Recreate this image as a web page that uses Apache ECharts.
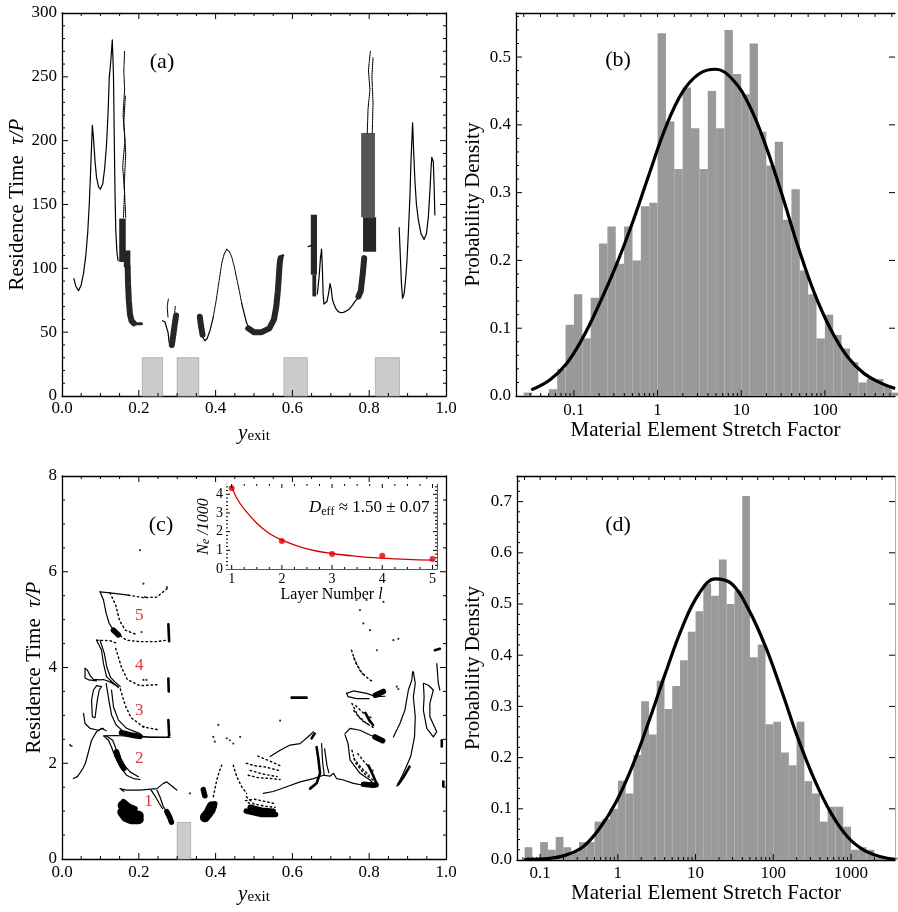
<!DOCTYPE html>
<html><head><meta charset="utf-8">
<script src="https://cdn.jsdelivr.net/npm/echarts@6/dist/echarts.min.js"></script>
<style>html,body{margin:0;padding:0;background:#fff}#c{width:898px;height:912px}</style>
</head><body><div id="c"></div>
<script>
// ================= DATA =================
// ---- Panel (a): residence time vs exit position ----
const aXTickValues = [0, 0.2, 0.4, 0.6, 0.8, 1];
const aXTickLabels = ['0.0', '0.2', '0.4', '0.6', '0.8', '1.0'];
const aYTickValues = [0, 50, 100, 150, 200, 250, 300];
const aYTickLabels = ['0', '50', '100', '150', '200', '250', '300'];
const aCurves = [
  [[0.031,92],[0.036,86],[0.043,82.5],[0.05,87],[0.056,96],[0.062,110],[0.067,128],[0.071,150],[0.075,180],[0.079,212],[0.082,202],[0.086,184],[0.09,171],[0.095,164],[0.1,162],[0.106,166],[0.111,178],[0.116,197],[0.12,222],[0.123,249],[0.127,262],[0.131,279],[0.134,252],[0.136,205],[0.138,160],[0.14,130],[0.143,113],[0.146,106]],
  [[0.262,59],[0.268,58],[0.273,57],[0.276,50],[0.279,42],[0.283,38.5],[0.287,39.5]],
  [[0.358,64],[0.362,55],[0.367,46],[0.372,43.3],[0.378,45],[0.386,52],[0.394,62]],
  [[0.468,72.6],[0.475,64],[0.481,57],[0.49,52],[0.498,49]],
  [[0.641,117],[0.65,118]],
  [[0.665,80],[0.67,95],[0.673,108],[0.676,115],[0.678,100],[0.68,80],[0.682,72],[0.686,71],[0.69,74],[0.694,80],[0.698,88],[0.701,84],[0.704,76],[0.708,72],[0.714,68],[0.72,66],[0.726,65.3],[0.733,65.5],[0.74,66.5],[0.748,68],[0.756,71],[0.764,74.5],[0.772,77],[0.78,79]],
  [[0.878,132],[0.881,110],[0.884,88],[0.887,76.5],[0.891,80],[0.895,92],[0.898,104],[0.902,128],[0.906,156],[0.909,185],[0.913,214],[0.916,190],[0.919,169],[0.923,150],[0.928,138],[0.935,127],[0.943,122.7],[0.949,127],[0.954,140],[0.958,160],[0.961,178],[0.963,187],[0.965,187],[0.967,183.5],[0.969,165],[0.971,141.8]]
];
const aDotted = [
  [[0.394,62],[0.401,74],[0.407,86],[0.412,96],[0.416,104],[0.422,111],[0.429,115],[0.436,113],[0.442,109],[0.449,101],[0.455,92],[0.462,82],[0.468,72.6]],
  [[0.160,140],[0.163,160],[0.158,180],[0.164,200],[0.159,220],[0.163,240],[0.161,255],[0.163,270]],
  [[0.166,140],[0.162,165],[0.166,190],[0.161,215],[0.165,235]],
  [[0.276,62],[0.274,70],[0.277,76]],
  [[0.293,64],[0.295,70]],
  [[0.795,206],[0.797,225],[0.802,240],[0.798,255],[0.803,270]],
  [[0.808,206],[0.81,230],[0.807,250],[0.81,265]]
];
const aBands = [
  [[0.171,101],[0.172,88],[0.174,75],[0.177,64],[0.181,59],[0.187,57]],
  [[0.286,40],[0.29,48],[0.294,57],[0.297,63]],
  [[0.359,62],[0.362,55],[0.366,48]],
  [[0.485,53],[0.5,50],[0.52,50],[0.54,53],[0.552,60],[0.558,70],[0.562,82],[0.565,95],[0.567,104],[0.569,108]],
  [[0.772,78],[0.778,82],[0.783,95],[0.787,108]]
];
const aThinBands = [
  [[0.185,57],[0.195,56.5],[0.207,56.5]],
  [[0.569,108],[0.575,110]]
];
const aDarkBlocks = [[0.149,0.166,105,139],[0.161,0.178,101,114],[0.648,0.664,95,142],[0.652,0.662,78,95],[0.784,0.818,113,140]];
const aHatchBlocks = [[0.779,0.815,140,206]];
const aShades = [[0.209,0.262,30],[0.300,0.356,30],[0.578,0.639,30],[0.816,0.879,30]];

// ---- Panel (b): stretch factor histogram ----
const bTickValues = [0.1, 1, 10, 100];
const bTickLabels = ['0.1', '1', '10', '100'];
const bYTickValues = [0, 0.1, 0.2, 0.3, 0.4, 0.5];
const bYTickLabels = ['0.0', '0.1', '0.2', '0.3', '0.4', '0.5'];
const bBinStartLog10 = -1.6;
const bBinWidthLog10 = 0.1;
const bDensity = [0.005,0,0,0.01,0.04,0.105,0.15,0.085,0.145,0.225,0.25,0.195,0.25,0.2,0.28,0.285,0.535,0.405,0.335,0.455,0.395,0.335,0.45,0.395,0.54,0.475,0.445,0.52,0.39,0.34,0.375,0.26,0.305,0.185,0.15,0.085,0.12,0.09,0.07,0.05,0.02,0.025,0.025,0.015,0.005];
const bFitLog10 = [-1.51,-1.285,-1.087,-0.889,-0.692,-0.494,-0.296,-0.099,0.099,0.296,0.494,0.692,0.889,1.087,1.285,1.482,1.68,1.877,2.075,2.27,2.47,2.67,2.84];
const bFitDensity = [0.009,0.024,0.048,0.087,0.137,0.193,0.257,0.328,0.397,0.448,0.475,0.482,0.468,0.431,0.372,0.299,0.22,0.151,0.097,0.058,0.033,0.019,0.011];

// ---- Panel (c): residence time (scaled) vs exit position ----
const cXTickValues = [0, 0.2, 0.4, 0.6, 0.8, 1];
const cXTickLabels = ['0.0', '0.2', '0.4', '0.6', '0.8', '1.0'];
const cYTickValues = [0, 2, 4, 6, 8];
const cYTickLabels = ['0', '2', '4', '6', '8'];
const cThin = [
  [[0.099,5.58],[0.125,5.56],[0.173,5.51]],
  [[0.099,5.58],[0.108,5.41],[0.115,5.13],[0.123,4.92],[0.134,4.78],[0.144,4.71],[0.152,4.66]],
  [[0.090,4.57],[0.103,4.36],[0.108,4.08],[0.116,3.81],[0.134,3.67],[0.147,3.58]],
  [[0.099,4.57],[0.110,4.30],[0.117,4.0],[0.126,3.8],[0.140,3.68],[0.152,3.60]],
  [[0.060,3.98],[0.066,3.95],[0.074,3.82],[0.082,3.75],[0.1,3.74],[0.108,3.75],[0.125,3.70],[0.147,3.60]],
  [[0.060,3.98],[0.060,3.78],[0.070,3.74],[0.090,3.72]],
  [[0.103,3.60],[0.097,3.53],[0.092,3.32],[0.086,2.95],[0.079,2.97],[0.077,3.32],[0.082,3.53],[0.090,3.62],[0.103,3.60]],
  [[0.056,3.04],[0.060,2.83],[0.073,2.73],[0.095,2.69],[0.108,2.73]],
  [[0.0295,1.68],[0.040,1.72],[0.047,1.80],[0.055,1.9],[0.061,2.0],[0.069,2.24],[0.077,2.48],[0.090,2.66],[0.103,2.73],[0.115,2.68]],
  [[0.115,3.67],[0.122,3.32],[0.129,3.01],[0.141,2.80],[0.160,2.66],[0.186,2.59],[0.229,2.54],[0.281,2.54]],
  [[0.129,3.53],[0.134,3.18],[0.147,2.90],[0.168,2.73],[0.203,2.62]],
  [[0.109,2.57],[0.121,2.48],[0.129,2.34],[0.138,2.14],[0.151,1.93],[0.168,1.75],[0.186,1.68],[0.203,1.66]],
  [[0.116,2.57],[0.132,2.48],[0.142,2.27],[0.155,2.03],[0.177,1.82],[0.199,1.72]],
  [[0.109,2.57],[0.142,2.58],[0.203,2.55],[0.273,2.54],[0.281,2.59]],
  [[0.161,1.41],[0.151,1.47],[0.168,1.44],[0.203,1.44],[0.247,1.47],[0.264,1.58],[0.273,1.61],[0.299,1.44]],
  [[0.247,1.44],[0.255,1.30],[0.264,1.09],[0.273,0.99],[0.281,0.88]],
  [[0.232,1.44],[0.242,1.32],[0.252,1.18],[0.262,1.05]],
  [[0.524,1.37],[0.550,1.41],[0.585,1.51],[0.620,1.61],[0.655,1.68],[0.681,1.75],[0.698,1.73],[0.707,1.79],[0.715,1.68],[0.733,1.65],[0.759,1.58],[0.785,1.54],[0.811,1.54]],
  [[0.542,2.14],[0.568,2.27],[0.594,2.38],[0.620,2.41],[0.646,2.59],[0.655,2.66]],
  [[0.741,3.46],[0.759,3.51],[0.793,3.46],[0.819,3.39],[0.841,3.40]],
  [[0.741,3.46],[0.745,3.39],[0.767,3.35],[0.80,3.35]],
  [[0.737,2.62],[0.750,2.73],[0.776,2.69],[0.802,2.59],[0.837,2.48]],
  [[0.737,2.59],[0.745,2.41],[0.750,2.07],[0.776,1.79],[0.802,1.65],[0.815,1.54]],
  [[0.863,2.55],[0.880,2.83],[0.893,3.11],[0.902,3.53],[0.911,3.74],[0.913,3.91]],
  [[0.872,1.52],[0.889,1.79],[0.908,2.14],[0.918,2.55],[0.920,2.97],[0.915,3.39],[0.920,3.67],[0.915,3.91]],
  [[0.941,3.67],[0.954,3.63],[0.967,3.53],[0.958,3.25],[0.958,2.97],[0.976,2.66],[0.967,2.55],[0.950,2.73],[0.941,3.11],[0.943,3.39],[0.941,3.67]],
  [[0.976,4.08],[0.980,3.67],[0.984,3.53]],
  [[0.676,2.41],[0.679,2.0],[0.683,1.75]],
  [[0.684,2.3],[0.69,1.95],[0.695,1.8]]
];
const cMedium = [
  [[0.663,2.34],[0.668,2.07],[0.672,1.79],[0.663,1.58],[0.646,1.47]],
  [[0.598,3.37],[0.637,3.37]],
  [[0.876,1.56],[0.89,1.72],[0.905,1.93]],
  [[0.971,4.36],[0.984,4.39]],
  [[0.989,2.48],[0.989,2.35]],
  [[0.993,1.62],[0.993,1.52]],
  [[0.277,4.9],[0.279,4.55]],
  [[0.277,3.77],[0.278,3.5]],
  [[0.277,2.9],[0.279,2.58]],
  [[0.650,2.52],[0.658,2.62]],
  [[0.798,1.95],[0.81,1.75],[0.818,1.6]],
  [[0.79,3.05],[0.8,2.9],[0.81,2.8]]
];
const cThick = [
  [[0.142,2.24],[0.149,2.07],[0.161,1.89]],
  [[0.155,2.64],[0.18,2.59],[0.203,2.56]],
  [[0.273,0.99],[0.281,0.86],[0.285,0.77]],
  [[0.368,1.45],[0.372,1.32]],
  [[0.48,1.0],[0.52,0.93],[0.556,0.93]],
  [[0.785,1.56],[0.811,1.54],[0.818,1.55]],
  [[0.816,3.42],[0.837,3.5]],
  [[0.815,2.55],[0.835,2.47]],
  [[0.134,4.78],[0.147,4.68]],
  [[0.16,1.2],[0.175,1.1],[0.19,1.05]],
  [[0.398,1.15],[0.392,1.0]],
  [[0.49,1.08],[0.52,1.02],[0.55,1.0]]
];
const cHeavy = [
  [[0.158,1.12],[0.17,1.0],[0.185,0.93],[0.2,0.9]],
  [[0.157,0.98],[0.166,0.88],[0.18,0.83],[0.2,0.83]],
  [[0.39,1.1],[0.382,0.97],[0.372,0.87]]
];
const cDotted = [
  [[0.173,5.51],[0.212,5.46],[0.247,5.47],[0.277,5.67]],
  [[0.152,4.66],[0.168,4.57],[0.203,4.54],[0.247,4.54],[0.273,4.57]],
  [[0.125,5.56],[0.14,5.3],[0.15,4.98],[0.165,4.78],[0.19,4.7]],
  [[0.09,4.57],[0.125,4.56],[0.145,4.5]],
  [[0.14,4.4],[0.155,4.0],[0.17,3.75],[0.203,3.62],[0.247,3.64]],
  [[0.152,3.55],[0.165,3.2],[0.18,2.95],[0.212,2.76],[0.25,2.7]],
  [[0.394,1.30],[0.403,1.65],[0.411,1.86],[0.416,1.96]],
  [[0.446,1.96],[0.455,1.72],[0.468,1.51],[0.481,1.37]],
  [[0.48,1.3],[0.5,1.15],[0.53,1.1],[0.555,1.08]],
  [[0.485,1.18],[0.51,1.05],[0.54,1.0]],
  [[0.478,1.22],[0.5,1.25],[0.53,1.2],[0.558,1.15]],
  [[0.48,2.0],[0.5,1.95],[0.53,1.92],[0.565,1.85]],
  [[0.49,1.85],[0.52,1.78],[0.56,1.72]],
  [[0.51,2.15],[0.54,2.05],[0.568,1.95]],
  [[0.485,1.75],[0.51,1.7],[0.545,1.68],[0.568,1.66]],
  [[0.754,4.36],[0.765,4.1],[0.78,3.9],[0.8,3.75],[0.811,3.7]],
  [[0.76,4.2],[0.775,3.95],[0.79,3.8]],
  [[0.755,3.25],[0.77,3.0],[0.79,2.85],[0.81,2.75]],
  [[0.76,3.1],[0.78,2.9],[0.8,2.8]],
  [[0.765,3.2],[0.785,3.05],[0.805,2.95]],
  [[0.755,2.27],[0.765,2.0],[0.785,1.8],[0.81,1.65]],
  [[0.76,2.1],[0.78,1.9],[0.8,1.75]],
  [[0.77,2.2],[0.79,2.0],[0.81,1.85]]
];
const cDots = [[0.203,6.45],[0.212,5.75],[0.216,5.47],[0.273,5.68],[0.212,3.74],[0.22,3.74],[0.212,2.76],[0.207,4.74],[0.407,2.80],[0.394,2.55],[0.398,2.45],[0.429,2.52],[0.437,2.48],[0.446,2.41],[0.464,2.55],[0.333,1.37],[0.568,2.89],[0.767,5.41],[0.793,5.41],[0.837,5.37],[0.776,5.2],[0.785,4.92],[0.802,4.78],[0.863,4.57],[0.876,4.6],[0.82,4.36],[0.872,3.6],[0.876,3.55],[0.021,2.38],[0.025,2.36]];
const cShades = [[0.300,0.335,0.765]];
const cLayerX = [0.201, 0.201, 0.201, 0.201, 0.225];
const cLayerY = [5.09, 4.05, 3.11, 2.10, 1.20];
const cLayerText = ['5', '4', '3', '2', '1'];

// ---- Inset of (c): number of elements per layer ----
const insetLayer = [1, 2, 3, 4, 5];
const insetNe = [4.32, 1.5, 0.80, 0.71, 0.54];
const insetFitLayer = [1, 1.1, 1.25, 1.5, 1.75, 2, 2.5, 3, 3.5, 4, 4.5, 5];
const insetFitNe = [4.4, 3.8, 3.2, 2.45, 1.9, 1.55, 1.08, 0.83, 0.68, 0.58, 0.51, 0.47];
const insetXTickValues = [1, 2, 3, 4, 5];
const insetXTickLabels = ['1', '2', '3', '4', '5'];
const insetYTickValues = [0, 1, 2, 3, 4];
const insetYTickLabels = ['0', '1', '2', '3', '4'];

// ---- Panel (d): stretch factor histogram ----
const dTickValues = [0.1, 1, 10, 100, 1000];
const dTickLabels = ['0.1', '1', '10', '100', '1000'];
const dYTickValues = [0, 0.1, 0.2, 0.3, 0.4, 0.5, 0.6, 0.7];
const dYTickLabels = ['0.0', '0.1', '0.2', '0.3', '0.4', '0.5', '0.6', '0.7'];
const dBinStartLog10 = -1.2;
const dBinWidthLog10 = 0.1;
const dDensity = [0.025,0,0.035,0.02,0.045,0.025,0.015,0.035,0.035,0.075,0.08,0.10,0.155,0.13,0.205,0.31,0.245,0.35,0.295,0.34,0.39,0.446,0.486,0.54,0.516,0.587,0.50,0.526,0.711,0.396,0.421,0.265,0.27,0.21,0.185,0.27,0.154,0.13,0.075,0.104,0.104,0.065,0.02,0.025,0.02,0.005,0.005,0.005];
const dFitLog10 = [-1.204,-0.872,-0.66,-0.447,-0.234,-0.021,0.191,0.404,0.617,0.83,1.043,1.255,1.468,1.68,1.894,2.106,2.319,2.532,2.745,2.957,3.17,3.383,3.57];
const dFitDensity = [0.001,0.003,0.01,0.026,0.062,0.114,0.185,0.273,0.367,0.455,0.52,0.549,0.539,0.49,0.419,0.331,0.237,0.156,0.091,0.045,0.019,0.0065,0.001];

// ================= LAYOUT / STYLE =================
const FONT = 'Liberation Serif';
const grids = [
  {left: 62, top: 13, width: 384, height: 383},
  {left: 516, top: 13, width: 381, height: 383},
  {left: 62, top: 476, width: 384, height: 383},
  {left: 517, top: 476, width: 380, height: 384},
  {left: 226, top: 484, width: 211, height: 85, show: true, backgroundColor: '#fff', borderWidth: 0, z: 4}
];
const A = {xMin: 0, xMax: 1, yMin: 0, yMax: 300};
const B = {xMin: 0.0203, xMax: 689, yMin: 0, yMax: 0.565};
const C = {xMin: 0, xMax: 1, yMin: 0, yMax: 8};
const D = {xMin: 0.0504, xMax: 3681, yMin: 0, yMax: 0.75};
const IN = {xMin: 0.887, xMax: 5.09, yMin: 0, yMax: 4.55};

function fmt(vals, labels) {
  return v => {
    const i = vals.findIndex(t => Math.abs(t - v) <= 1e-6 * Math.max(1, Math.abs(t)));
    return i >= 0 ? '{t|' + labels[i] + '}' : '';
  };
}
const blk = '#000';
function axisBase(o) {
  return Object.assign({
    splitLine: {show: false},
    axisLine: {show: true, onZero: false, lineStyle: {color: blk, width: 1.3}},
    axisTick: {show: false},
    minorTick: {show: false},
    axisLabel: {show: false},
    axisPointer: {show: false}
  }, o);
}
function lab(vals, labels, extra) {
  const fs = (extra && extra.fontSize) || 17;
  return Object.assign({show: true, fontSize: fs, fontFamily: FONT, color: blk, margin: 4, formatter: fmt(vals, labels),
    rich: {t: {fontSize: fs, fontFamily: FONT, color: blk}}}, extra || {});
}
const richName = {
  n: {fontSize: 21, fontFamily: FONT, color: blk},
  i: {fontSize: 21, fontFamily: FONT, fontStyle: 'italic', color: blk},
  s: {fontSize: 15, fontFamily: FONT, color: blk, padding: [7, 0, 0, 0]}
};
const insetLine = {show: true, onZero: false, lineStyle: {color: '#555', width: 1}};

const xAxis = [
  axisBase({gridIndex: 0, type: 'value', position: 'bottom', min: A.xMin, max: A.xMax, interval: 0.2,
    axisLabel: lab(aXTickValues, aXTickLabels, {margin: 4}),
    name: '{i|y}{s|exit}', nameLocation: 'middle', nameGap: 26, nameTextStyle: {rich: richName}}),
  axisBase({gridIndex: 0, type: 'value', position: 'top', min: A.xMin, max: A.xMax, interval: 0.2}),
  axisBase({gridIndex: 1, type: 'log', logBase: 10, position: 'bottom', min: B.xMin, max: B.xMax,
    axisLabel: lab(bTickValues, bTickLabels, {margin: 6}),
    name: 'Material Element Stretch Factor', nameLocation: 'middle', nameGap: 23,
    nameTextStyle: {fontSize: 21, fontFamily: FONT, color: blk}}),
  axisBase({gridIndex: 1, type: 'log', logBase: 10, position: 'top', min: B.xMin, max: B.xMax}),
  axisBase({gridIndex: 2, type: 'value', position: 'bottom', min: C.xMin, max: C.xMax, interval: 0.2,
    axisLabel: lab(cXTickValues, cXTickLabels, {margin: 5}),
    name: '{i|y}{s|exit}', nameLocation: 'middle', nameGap: 24, nameTextStyle: {rich: richName}}),
  axisBase({gridIndex: 2, type: 'value', position: 'top', min: C.xMin, max: C.xMax, interval: 0.2}),
  axisBase({gridIndex: 3, type: 'log', logBase: 10, position: 'bottom', min: D.xMin, max: D.xMax,
    axisLabel: lab(dTickValues, dTickLabels, {margin: 5}),
    name: 'Material Element Stretch Factor', nameLocation: 'middle', nameGap: 23,
    nameTextStyle: {fontSize: 21, fontFamily: FONT, color: blk}}),
  axisBase({gridIndex: 3, type: 'log', logBase: 10, position: 'top', min: D.xMin, max: D.xMax}),
  axisBase({gridIndex: 4, type: 'value', position: 'bottom', min: IN.xMin, max: IN.xMax, splitNumber: 4, axisLine: insetLine,
    axisLabel: lab(insetXTickValues, insetXTickLabels, {fontSize: 14, margin: 3}),
    name: '{n|Layer Number }{i|l}', nameLocation: 'middle', nameGap: 13,
    nameTextStyle: {rich: {n: {fontSize: 16, fontFamily: FONT, color: blk}, i: {fontSize: 16, fontFamily: FONT, fontStyle: 'italic', color: blk}}}}),
  axisBase({gridIndex: 4, type: 'value', position: 'top', min: IN.xMin, max: IN.xMax, splitNumber: 4, axisLine: insetLine})
];
const yAxis = [
  axisBase({gridIndex: 0, type: 'value', position: 'left', min: A.yMin, max: A.yMax, interval: 50,
    axisLabel: lab(aYTickValues, aYTickLabels, {margin: 5}),
    name: '{n|Residence Time  }{i|τ/P}', nameLocation: 'middle', nameGap: 33, nameRotate: 90, nameTextStyle: {rich: richName}}),
  axisBase({gridIndex: 0, type: 'value', position: 'right', min: A.yMin, max: A.yMax, interval: 50}),
  axisBase({gridIndex: 1, type: 'value', position: 'left', min: B.yMin, max: B.yMax, interval: 0.1,
    axisLabel: lab(bYTickValues, bYTickLabels, {margin: 5}),
    name: 'Probability Density', nameLocation: 'middle', nameGap: 32, nameRotate: 90,
    nameTextStyle: {fontSize: 21, fontFamily: FONT, color: blk}}),
  axisBase({gridIndex: 1, type: 'value', position: 'right', min: B.yMin, max: B.yMax, interval: 0.1, axisLine: {show: false}}),
  axisBase({gridIndex: 2, type: 'value', position: 'left', min: C.yMin, max: C.yMax, interval: 2,
    axisLabel: lab(cYTickValues, cYTickLabels, {margin: 5}),
    name: '{n|Residence Time  }{i|τ/P}', nameLocation: 'middle', nameGap: 15, nameRotate: 90, nameTextStyle: {rich: richName}}),
  axisBase({gridIndex: 2, type: 'value', position: 'right', min: C.yMin, max: C.yMax, interval: 2}),
  axisBase({gridIndex: 3, type: 'value', position: 'left', min: D.yMin, max: D.yMax, interval: 0.1,
    axisLabel: lab(dYTickValues, dYTickLabels, {margin: 5}),
    name: 'Probability Density', nameLocation: 'middle', nameGap: 33, nameRotate: 90,
    nameTextStyle: {fontSize: 21, fontFamily: FONT, color: blk}}),
  axisBase({gridIndex: 3, type: 'value', position: 'right', min: D.yMin, max: D.yMax, interval: 0.1,
    axisLine: {show: true, onZero: false, lineStyle: {color: '#999', width: 1, type: 'dotted'}}}),
  axisBase({gridIndex: 4, type: 'value', position: 'left', min: IN.yMin, max: IN.yMax, interval: 1, axisLine: insetLine,
    axisLabel: lab(insetYTickValues, insetYTickLabels, {fontSize: 14, margin: 3}),
    name: '{i|N}{s|e}{i| /1000}', nameLocation: 'middle', nameGap: 11, nameRotate: 90,
    nameTextStyle: {rich: {i: {fontSize: 16, fontFamily: FONT, fontStyle: 'italic', color: blk},
      s: {fontSize: 12, fontFamily: FONT, fontStyle: 'italic', color: blk, padding: [5, 0, 0, 0]}}}}),
  axisBase({gridIndex: 4, type: 'value', position: 'right', min: IN.yMin, max: IN.yMax, interval: 1, axisLine: insetLine})
];

// ================= SERIES BUILDERS =================
function polys(list, xi, yi, style, z) {
  return list.map(pts => ({type: 'line', xAxisIndex: xi, yAxisIndex: yi, data: pts, symbol: 'none', showSymbol: false,
    lineStyle: Object.assign({color: blk, cap: 'round', join: 'round'}, style), silent: true, animation: false, z: z || 3}));
}
function rects(data, xi, yi, style, z) {
  return {type: 'custom', xAxisIndex: xi, yAxisIndex: yi, data, silent: true, animation: false, z: z || 2,
    encode: {x: [0, 1], y: [2, 3]},
    renderItem: (p, api) => {
      const a = api.coord([api.value(0), api.value(3)]);
      const b = api.coord([api.value(1), api.value(2)]);
      return {type: 'rect', shape: {x: a[0], y: a[1], width: b[0] - a[0], height: b[1] - a[1]}, style: Object.assign({}, style)};
    }};
}
function histRects(startLog, widthLog, dens) {
  return dens.map((h, i) => [Math.pow(10, startLog + i * widthLog), Math.pow(10, startLog + (i + 1) * widthLog), 0, h]);
}
// frame tick marks (decoration): [x, y, dx, dy] in axis values + pixel offsets
function ticks(xi, yi, data, z) {
  return {type: 'custom', xAxisIndex: xi, yAxisIndex: yi, data, silent: true, animation: false, clip: false, z: z || 6,
    encode: {x: 0, y: 1},
    renderItem: (p, api) => {
      const c = api.coord([api.value(0), api.value(1)]);
      return {type: 'line', shape: {x1: c[0], y1: c[1], x2: c[0] + api.value(2), y2: c[1] + api.value(3)}, style: {stroke: blk, lineWidth: 1}};
    }};
}
function stepTicks(lo, hi, step, split) {
  const out = [];
  const st = step / split;
  for (let i = Math.ceil(lo / st - 1e-9); i * st <= hi + 1e-9; i++) {
    const v = +(i * st).toFixed(10);
    if (v <= lo + 1e-9 || v >= hi - 1e-9) continue;
    out.push([v, i % split === 0]);
  }
  return out;
}
function xLinTicks(R, step, split, M, m, top) {
  const out = [];
  stepTicks(R.xMin, R.xMax, step, split).forEach(([v, major]) => {
    const L = major ? M : m;
    out.push([v, R.yMin, 0, -L]);
    if (top) out.push([v, R.yMax, 0, L]);
  });
  return out;
}
function yLinTicks(R, step, split, M, m, left, right, rightMinor) {
  const out = [];
  stepTicks(R.yMin, R.yMax, step, split).forEach(([v, major]) => {
    const L = major ? M : m;
    if (left) out.push([R.xMin, v, L, 0]);
    if (right && (major || rightMinor)) out.push([R.xMax, v, -L, 0]);
  });
  return out;
}
function xLogTicks(R) {
  const out = [];
  for (let k = -3; k <= 4; k++) for (let m = 1; m <= 9; m++) {
    const v = m * Math.pow(10, k);
    if (v > R.xMin && v < R.xMax) out.push([v, R.yMin, 0, m === 1 ? -6 : -3]);
  }
  for (let j = -20; j <= 20; j++) {
    const v = Math.pow(10, j / 5);
    if (v > R.xMin * 1.01 && v < R.xMax * 0.99) out.push([v, R.yMax, 0, 4]);
  }
  return out;
}

const series = [];
// (a)
series.push(rects(aShades.map(s => [s[0], s[1], 0, s[2]]), 0, 0, {fill: '#cccccc', stroke: '#a8a8a8', lineWidth: 0.8}, 1));
series.push(rects(aHatchBlocks, 0, 0, {fill: '#555555'}, 2));
series.push(rects(aDarkBlocks, 0, 0, {fill: '#262626'}, 2));
series.push(...polys(aCurves, 0, 0, {width: 1.2}));
series.push(...polys(aDotted, 0, 0, {width: 1.1, type: 'dotted'}));
series.push(...polys(aBands, 0, 0, {width: 6, color: '#262626'}));
series.push(...polys(aThinBands, 0, 0, {width: 3, color: '#262626'}));
series.push(ticks(0, 0, xLinTicks(A, 0.2, 4, 6, 3, true).concat(yLinTicks(A, 50, 5, 6, 3, true, true, true))));
// (b)
series.push(rects(histRects(bBinStartLog10, bBinWidthLog10, bDensity), 2, 2, {fill: '#999999'}, 2));
series.push({type: 'line', xAxisIndex: 2, yAxisIndex: 2, data: bFitLog10.map((L, i) => [Math.pow(10, L), bFitDensity[i]]),
  symbol: 'none', smooth: 0.4, lineStyle: {color: blk, width: 3.2}, silent: true, animation: false, z: 4});
series.push(ticks(2, 2, xLogTicks(B).concat(yLinTicks(B, 0.1, 5, 6, 3, true, true, false))));
// (c)
series.push(rects(cShades.map(s => [s[0], s[1], 0, s[2]]), 4, 4, {fill: '#cccccc', stroke: '#a8a8a8', lineWidth: 0.8}, 1));
series.push(...polys(cThin, 4, 4, {width: 1.2}));
series.push(...polys(cMedium, 4, 4, {width: 2.6}));
series.push(...polys(cThick, 4, 4, {width: 5.5}));
series.push(...polys(cHeavy, 4, 4, {width: 10}));
series.push(...polys(cDotted, 4, 4, {width: 1.4, type: [1.5, 3]}));
series.push({type: 'scatter', xAxisIndex: 4, yAxisIndex: 4, data: cDots, symbolSize: 2.2, itemStyle: {color: blk}, silent: true, animation: false, z: 3});
series.push({type: 'scatter', xAxisIndex: 4, yAxisIndex: 4, symbolSize: 0, silent: true, animation: false, z: 5,
  data: cLayerX.map((x, i) => ({value: [x, cLayerY[i]], name: cLayerText[i]})),
  label: {show: true, position: 'inside', formatter: p => p.name, color: '#e00000', fontSize: 17, fontFamily: FONT}});
series.push(ticks(4, 4, xLinTicks(C, 0.2, 4, 6, 3, true).concat(yLinTicks(C, 2, 4, 6, 3, true, true, true))));
// inset
series.push({type: 'line', xAxisIndex: 8, yAxisIndex: 8, data: insetFitLayer.map((l, i) => [l, insetFitNe[i]]),
  symbol: 'none', smooth: 0.4, lineStyle: {color: '#d40000', width: 1.3}, silent: true, animation: false, z: 10});
series.push({type: 'scatter', xAxisIndex: 8, yAxisIndex: 8, data: insetLayer.map((l, i) => [l, insetNe[i]]),
  symbolSize: 6, itemStyle: {color: '#e00000'}, silent: true, animation: false, z: 11});
series.push(ticks(8, 8, xLinTicks(IN, 1, 4, 4, 2, true).concat(yLinTicks(IN, 1, 5, 4, 2, true, true, true)), 12));
// (d)
series.push(rects(histRects(dBinStartLog10, dBinWidthLog10, dDensity), 6, 6, {fill: '#999999'}, 2));
series.push({type: 'line', xAxisIndex: 6, yAxisIndex: 6, data: dFitLog10.map((L, i) => [Math.pow(10, L), dFitDensity[i]]),
  symbol: 'none', smooth: 0.4, lineStyle: {color: blk, width: 3.2}, silent: true, animation: false, z: 4});
series.push(ticks(6, 6, xLogTicks(D).concat(yLinTicks(D, 0.1, 5, 6, 3, true, true, false))));

const chart = echarts.init(document.getElementById('c'), null, {renderer: 'canvas', width: 898, height: 912});
chart.setOption({
  animation: false,
  backgroundColor: '#fff',
  textStyle: {fontFamily: FONT, color: blk},
  grid: grids,
  xAxis, yAxis, series,
  graphic: [
    {type: 'text', x: 162, y: 62, z: 20, style: {text: '(a)', fontSize: 22, fontFamily: FONT, fill: blk, align: 'center', verticalAlign: 'middle'}},
    {type: 'text', x: 618, y: 60, z: 20, style: {text: '(b)', fontSize: 22, fontFamily: FONT, fill: blk, align: 'center', verticalAlign: 'middle'}},
    {type: 'text', x: 161, y: 525, z: 20, style: {text: '(c)', fontSize: 22, fontFamily: FONT, fill: blk, align: 'center', verticalAlign: 'middle'}},
    {type: 'text', x: 618, y: 525, z: 20, style: {text: '(d)', fontSize: 22, fontFamily: FONT, fill: blk, align: 'center', verticalAlign: 'middle'}},
    {type: 'text', x: 309, y: 508, z: 20, style: {text: '{i|D}{s|eff}{n| ≈ 1.50 ± 0.07}', align: 'left', verticalAlign: 'middle',
      rich: {i: {fontSize: 17, fontFamily: FONT, fontStyle: 'italic', fill: blk, color: blk},
             s: {fontSize: 12, fontFamily: FONT, fill: blk, color: blk, padding: [7, 0, 0, 0]},
             n: {fontSize: 17, fontFamily: FONT, fill: blk, color: blk}}}}
  ]
});
</script>
</body></html>
